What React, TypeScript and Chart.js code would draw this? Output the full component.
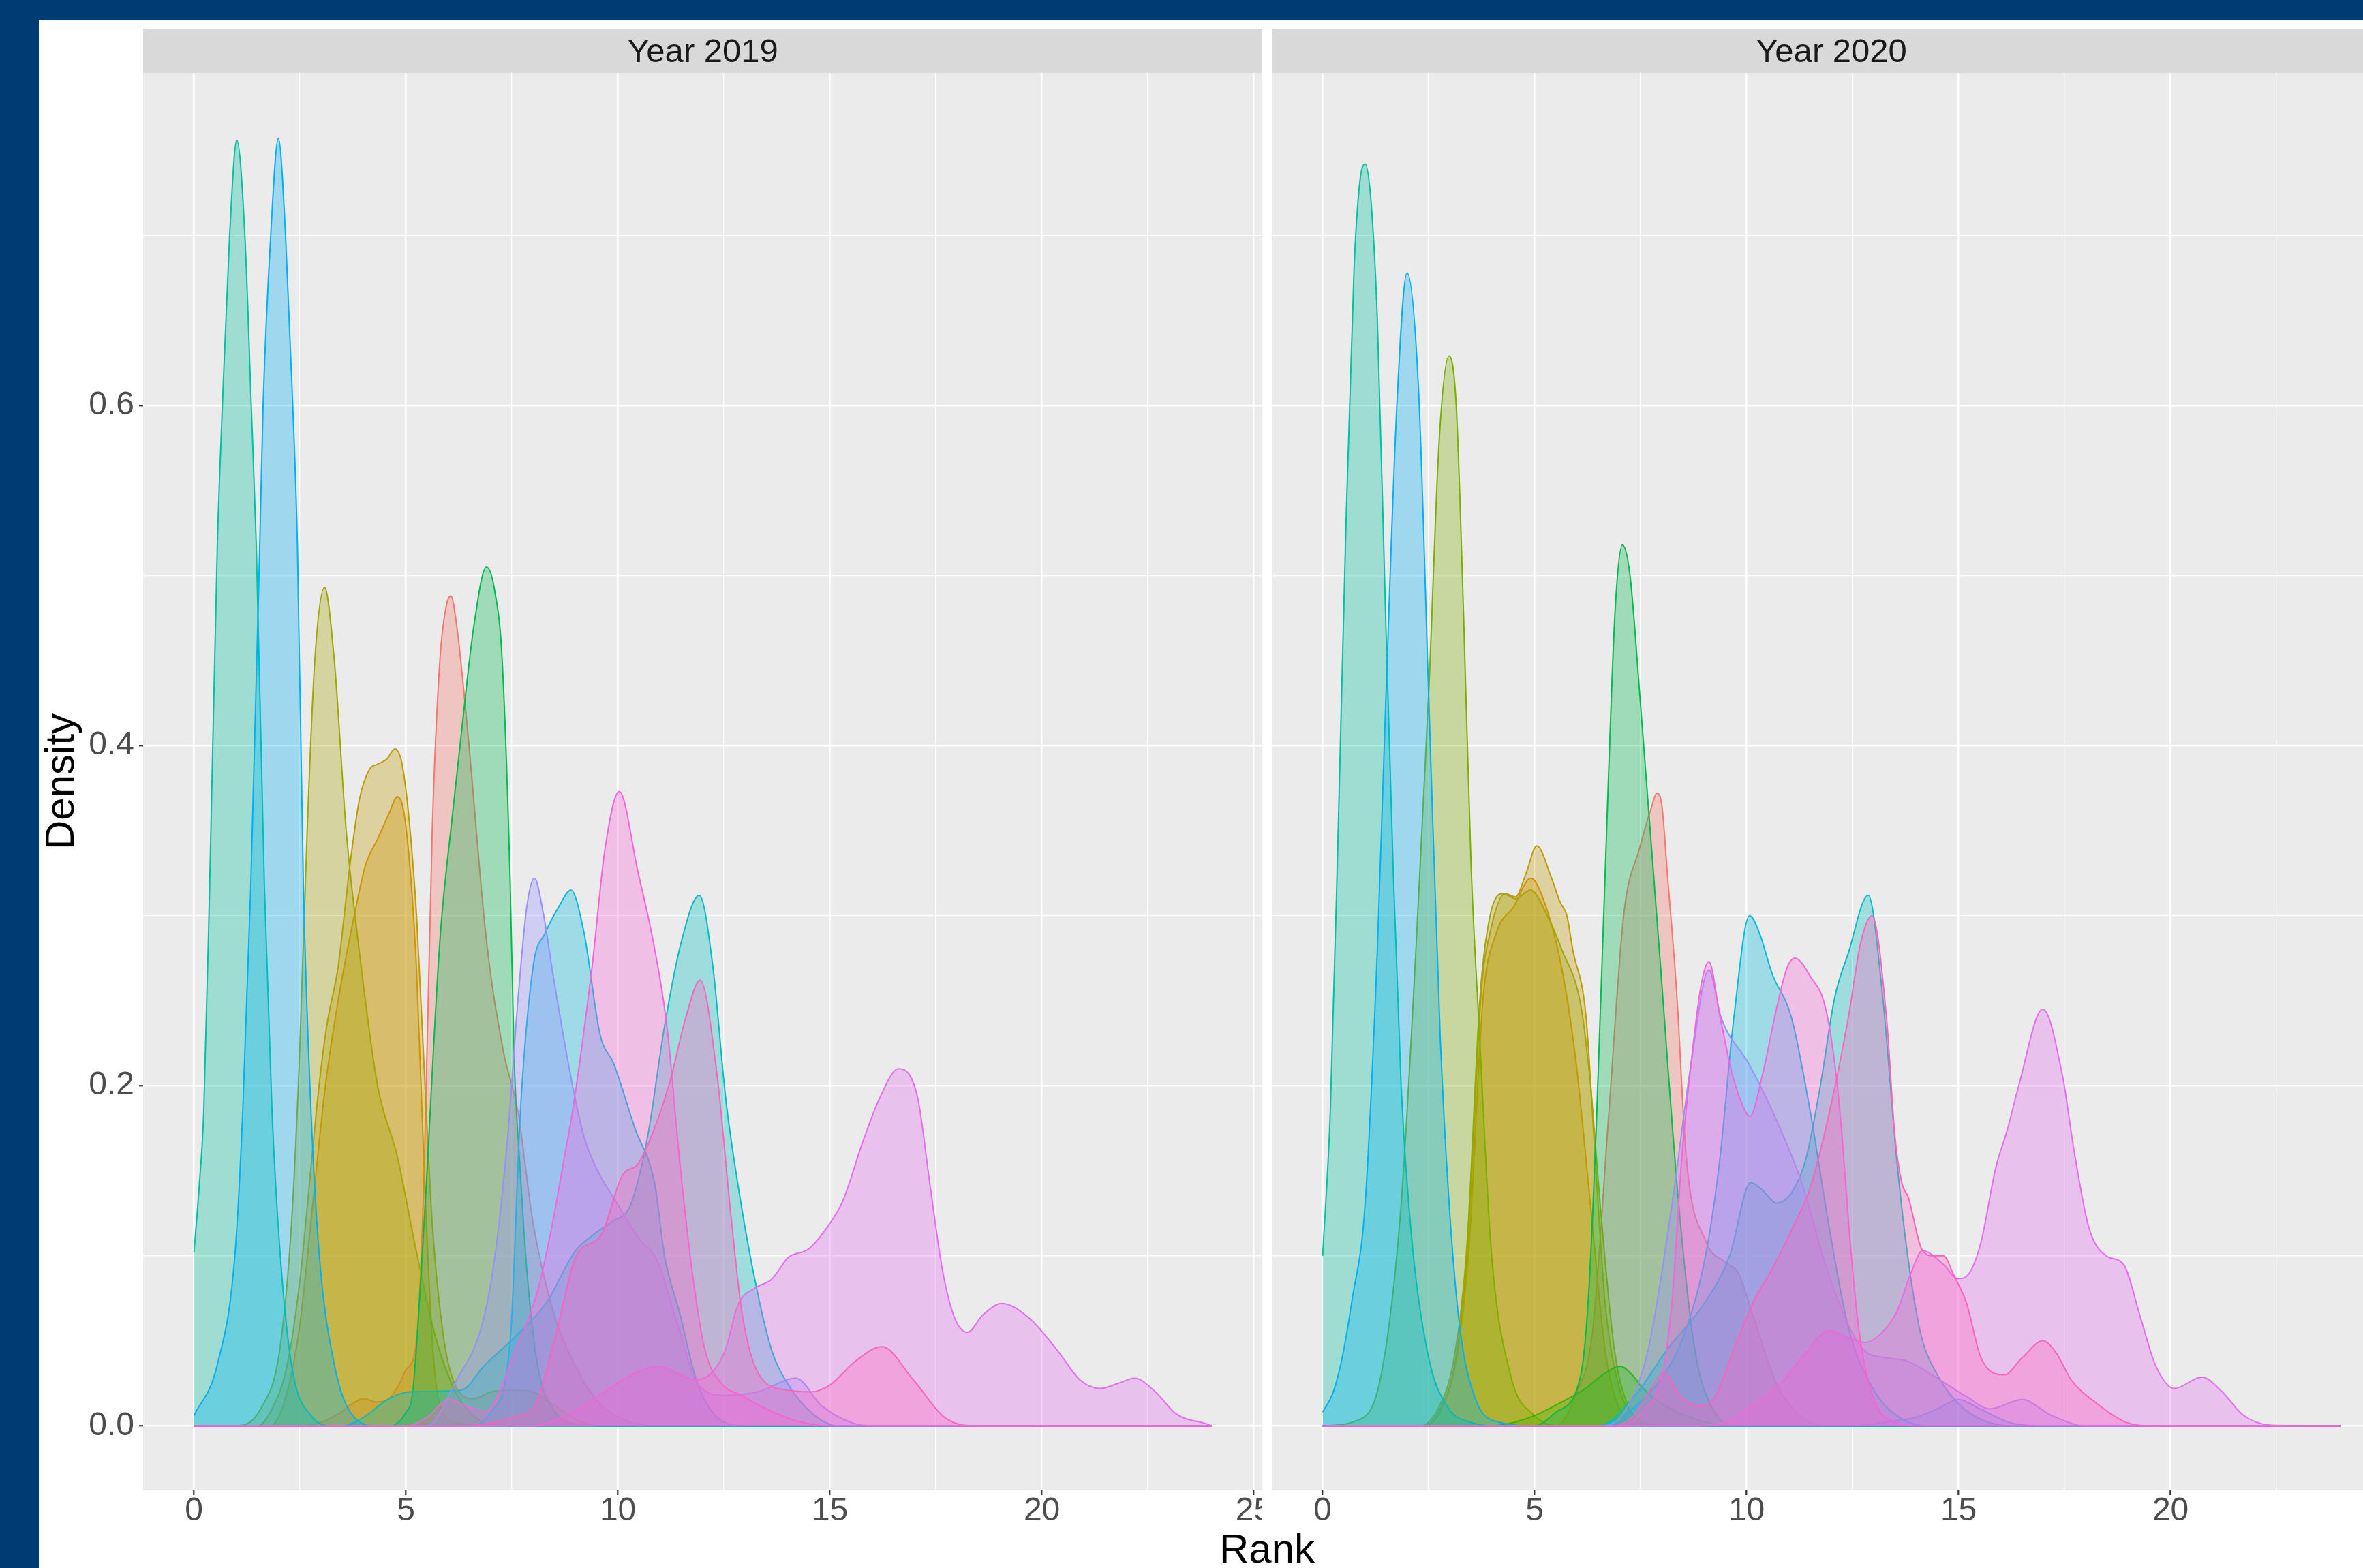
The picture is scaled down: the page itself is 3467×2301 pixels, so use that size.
import React, { useEffect, useRef } from "react";
import { Chart, registerables } from "chart.js";

Chart.register(...registerables);

type Pt = [number, number];

// ---------- axis / facet definitions ----------
const xTickValues = [0, 2.5, 5, 7.5, 10, 12.5, 15, 17.5, 20, 22.5, 25];
const xMajorTicks = [0, 5, 10, 15, 20, 25];
const yTickValues = [0, 0.1, 0.2, 0.3, 0.4, 0.5, 0.6, 0.7];
const yMajorTicks = [0, 0.2, 0.4, 0.6];
const facetLabels = ["Year 2019", "Year 2020"];
const xTitle = "Rank";
const yTitle = "Density";

// ---------- Year 2019 density curves: [rank, density] ----------
const d19_F8766D: Pt[] = [[0,0],[2.5,0],[3.0,0.002],[3.4,0.007],[3.8,0.014],[4.0,0.016],[4.3,0.014],[4.6,0.016],[4.85,0.025],[5.0,0.033],[5.25,0.05],[5.43,0.15],[5.62,0.35],[5.8,0.45],[5.95,0.482],[6.06,0.488],[6.2,0.47],[6.45,0.41],[6.9,0.285],[7.3,0.22],[7.64,0.185],[8.0,0.119],[8.5,0.065],[8.9,0.04],[9.5,0.015],[10.2,0.003],[11,0],[24,0]];
const d19_D89000: Pt[] = [[0,0],[1.8,0],[2.2,0.02],[2.5,0.06],[2.8,0.13],[3.1,0.2],[3.4,0.25],[3.78,0.3],[4.05,0.33],[4.33,0.345],[4.6,0.36],[4.8,0.37],[5.0,0.352],[5.25,0.268],[5.43,0.15],[5.62,0.05],[5.8,0.012],[6.2,0.002],[7,0],[24,0]];
const d19_C09B00: Pt[] = [[0,0],[1.5,0],[1.84,0.01],[2.2,0.036],[2.5,0.086],[2.76,0.152],[2.95,0.2],[3.13,0.235],[3.4,0.27],[3.68,0.33],[3.9,0.368],[4.14,0.386],[4.33,0.389],[4.55,0.392],[4.74,0.398],[4.9,0.39],[5.06,0.36],[5.25,0.3],[5.43,0.21],[5.62,0.119],[5.9,0.05],[6.2,0.022],[6.6,0.016],[7.0,0.02],[7.5,0.021],[8.0,0.02],[8.5,0.012],[9.0,0.004],[9.6,0],[24,0]];
const d19_A3A500: Pt[] = [[0,0],[1.0,0],[1.57,0.01],[2.03,0.046],[2.3,0.119],[2.49,0.218],[2.67,0.35],[2.85,0.45],[3.08,0.493],[3.31,0.45],[3.59,0.35],[3.87,0.285],[4.33,0.2],[4.79,0.159],[5.25,0.102],[5.7,0.052],[6.17,0.02],[6.63,0.005],[7.2,0],[24,0]];
const d19_00BB4E: Pt[] = [[0,0],[4.6,0],[5.0,0.008],[5.16,0.02],[5.43,0.12],[5.8,0.285],[6.1,0.36],[6.35,0.417],[6.6,0.47],[6.9,0.505],[7.1,0.49],[7.27,0.45],[7.46,0.318],[7.55,0.218],[7.69,0.152],[7.87,0.086],[8.1,0.036],[8.47,0.01],[9.0,0.001],[9.5,0],[24,0]];
const d19_00C1A3: Pt[] = [[0,0.102],[0.12,0.14],[0.23,0.185],[0.37,0.318],[0.55,0.517],[0.67,0.6],[0.84,0.7],[1.01,0.756],[1.2,0.7],[1.35,0.6],[1.47,0.517],[1.66,0.318],[1.84,0.185],[2.03,0.102],[2.3,0.036],[2.76,0.006],[3.3,0],[24,0]];
const d19_00BFC4: Pt[] = [[0,0],[3.5,0],[4.0,0.005],[4.6,0.016],[5.1,0.02],[6.3,0.021],[6.87,0.036],[7.6,0.053],[8.3,0.072],[9.0,0.103],[9.4,0.112],[9.85,0.12],[10.3,0.13],[10.7,0.17],[11.1,0.235],[11.5,0.285],[11.92,0.312],[12.24,0.27],[12.54,0.193],[12.83,0.142],[13.23,0.086],[13.62,0.045],[14.0,0.025],[14.6,0.007],[15.2,0],[24,0]];
const d19_00BAE0: Pt[] = [[0,0],[6.5,0],[7.0,0.008],[7.46,0.05],[7.7,0.185],[8.0,0.27],[8.29,0.29],[8.6,0.305],[8.89,0.315],[9.2,0.29],[9.58,0.23],[9.9,0.213],[10.4,0.175],[10.87,0.142],[11.1,0.1],[11.46,0.066],[11.85,0.027],[12.3,0.006],[13,0],[24,0]];
const d19_00B0F6: Pt[] = [[0,0.006],[0.55,0.036],[0.97,0.102],[1.15,0.185],[1.34,0.318],[1.55,0.517],[1.63,0.6],[1.81,0.7],[1.99,0.757],[2.16,0.7],[2.33,0.6],[2.44,0.517],[2.58,0.318],[2.76,0.185],[2.95,0.102],[3.31,0.036],[3.82,0.004],[4.3,0],[24,0]];
const d19_9590FF: Pt[] = [[0,0],[5.5,0],[6.17,0.026],[6.8,0.06],[7.1,0.1],[7.4,0.17],[7.64,0.25],[7.85,0.305],[8.03,0.322],[8.25,0.3],[8.47,0.265],[8.93,0.2],[9.2,0.17],[9.48,0.152],[10.0,0.13],[10.5,0.11],[10.93,0.097],[11.4,0.06],[11.9,0.024],[12.5,0.018],[13.3,0.02],[14.2,0.028],[14.8,0.012],[15.5,0.002],[16,0],[24,0]];
const d19_E76BF3: Pt[] = [[0,0],[8.0,0],[8.6,0.004],[9.2,0.012],[9.8,0.022],[10.4,0.031],[10.97,0.035],[11.4,0.031],[11.85,0.027],[12.24,0.032],[12.54,0.045],[12.83,0.071],[13.23,0.081],[13.62,0.086],[14.02,0.099],[14.5,0.104],[15.0,0.119],[15.3,0.132],[15.79,0.168],[16.18,0.193],[16.62,0.21],[17.07,0.193],[17.36,0.142],[17.66,0.091],[17.95,0.063],[18.25,0.055],[18.6,0.065],[19.06,0.072],[19.72,0.063],[20.02,0.055],[20.41,0.043],[20.9,0.027],[21.37,0.022],[21.8,0.025],[22.19,0.028],[22.68,0.02],[23.17,0.007],[23.96,0.0005],[24,0]];
const d19_FA62DB: Pt[] = [[0,0],[5.0,0],[5.5,0.005],[6.0,0.0155],[6.4,0.012],[6.87,0.008],[7.2,0.02],[7.55,0.043],[8.08,0.077],[8.44,0.117],[8.73,0.157],[8.93,0.185],[9.39,0.27],[9.7,0.34],[10.03,0.373],[10.47,0.326],[10.87,0.28],[11.16,0.234],[11.46,0.155],[11.75,0.091],[12.05,0.045],[12.44,0.025],[12.9,0.018],[13.5,0.01],[14.2,0.003],[15,0],[24,0]];
const d19_FF62BC: Pt[] = [[0,0],[6.5,0],[7.2,0.003],[7.6,0.006],[8.02,0.011],[8.5,0.05],[9.02,0.1],[9.6,0.112],[10.1,0.147],[10.5,0.155],[11.2,0.2],[11.6,0.24],[11.94,0.262],[12.34,0.206],[12.64,0.13],[12.93,0.066],[13.33,0.03],[14.0,0.021],[14.56,0.02],[15.0,0.024],[15.6,0.038],[16.23,0.0465],[16.97,0.027],[17.76,0.004],[18.5,0],[24,0]];

// ---------- Year 2020 density curves: [rank, density] ----------
const d20_F8766D: Pt[] = [[0,0],[5.5,0],[6.0,0.02],[6.37,0.056],[6.74,0.18],[7.1,0.3],[7.48,0.34],[7.76,0.364],[7.88,0.372],[8.0,0.365],[8.13,0.325],[8.35,0.255],[8.58,0.157],[9.03,0.109],[9.5,0.096],[9.8,0.09],[10.16,0.064],[10.7,0.025],[11.3,0.005],[12,0],[24,0]];
const d20_D89000: Pt[] = [[0,0],[2.4,0],[2.8,0.01],[3.16,0.04],[3.45,0.105],[3.78,0.25],[4.1,0.29],[4.5,0.305],[4.91,0.322],[5.2,0.31],[5.64,0.269],[5.98,0.213],[6.32,0.129],[6.66,0.045],[7.0,0.01],[7.6,0],[24,0]];
const d20_C09B00: Pt[] = [[0,0],[2.4,0],[2.77,0.01],[3.14,0.04],[3.42,0.105],[3.74,0.255],[3.95,0.29],[4.3,0.313],[4.55,0.311],[4.8,0.325],[5.05,0.341],[5.4,0.322],[5.6,0.308],[5.76,0.3],[5.9,0.28],[6.21,0.241],[6.43,0.157],[6.66,0.073],[7.0,0.022],[7.4,0.005],[8,0],[24,0]];
const d20_A3A500: Pt[] = [[0,0],[2.3,0],[2.72,0.01],[3.1,0.04],[3.4,0.105],[3.72,0.255],[3.95,0.3],[4.25,0.313],[4.55,0.31],[4.9,0.315],[5.3,0.3],[5.64,0.28],[6.09,0.247],[6.32,0.2],[6.55,0.129],[6.88,0.045],[7.2,0.012],[7.6,0.002],[8.2,0],[24,0]];
const d20_7CAE00: Pt[] = [[0,0],[0.8,0.003],[1.38,0.03],[1.85,0.13],[2.2,0.28],[2.5,0.43],[2.75,0.58],[2.98,0.629],[3.15,0.6],[3.32,0.48],[3.5,0.33],[3.7,0.23],[3.97,0.105],[4.43,0.03],[5.0,0.006],[5.6,0],[24,0]];
const d20_39B600: Pt[] = [[0,0],[4.0,0],[4.5,0.002],[5.0,0.006],[5.64,0.014],[6.2,0.022],[6.6,0.03],[7.02,0.035],[7.3,0.03],[7.56,0.022],[8.13,0.011],[8.8,0.004],[9.5,0],[24,0]];
const d20_00BB4E: Pt[] = [[0,0],[5.0,0],[5.5,0.008],[6.09,0.03],[6.28,0.08],[6.46,0.18],[6.74,0.38],[6.9,0.48],[7.07,0.518],[7.25,0.5],[7.48,0.43],[7.94,0.28],[8.4,0.13],[8.77,0.046],[9.2,0.01],[9.8,0],[24,0]];
const d20_00C1A3: Pt[] = [[0,0.1],[0.18,0.185],[0.37,0.354],[0.55,0.53],[0.74,0.68],[0.87,0.73],[1.0,0.742],[1.14,0.72],[1.29,0.65],[1.48,0.48],[1.66,0.33],[1.85,0.2],[2.12,0.105],[2.5,0.04],[2.95,0.011],[3.5,0.002],[4.2,0],[24,0]];
const d20_00BFC4: Pt[] = [[0,0],[6.5,0],[7.34,0.017],[8.13,0.045],[9.03,0.073],[9.6,0.1],[10.1,0.143],[10.4,0.138],[10.7,0.131],[11.06,0.137],[11.4,0.157],[11.74,0.2],[12.08,0.252],[12.4,0.278],[12.87,0.312],[13.2,0.255],[13.54,0.157],[13.8,0.1],[14.1,0.055],[14.5,0.03],[15.0,0.013],[15.6,0.003],[16.3,0],[24,0]];
const d20_00BAE0: Pt[] = [[0,0],[6.5,0],[7.3,0.01],[7.9,0.025],[8.47,0.05],[9.03,0.1],[9.37,0.157],[9.7,0.24],[10.07,0.3],[10.3,0.29],[10.6,0.266],[11.06,0.24],[11.5,0.185],[11.96,0.115],[12.4,0.058],[12.98,0.022],[13.6,0.005],[14.3,0],[24,0]];
const d20_00B0F6: Pt[] = [[0,0.008],[0.25,0.02],[0.46,0.04],[0.7,0.075],[1.0,0.13],[1.29,0.28],[1.48,0.42],[1.75,0.6],[1.99,0.678],[2.26,0.61],[2.5,0.43],[2.77,0.23],[3.14,0.08],[3.6,0.016],[4.2,0.002],[5,0],[24,0]];
const d20_35A2FF: Pt[] = [[0,0],[12.5,0],[13.5,0.003],[14.0,0.005],[14.5,0.01],[15.0,0.0155],[15.5,0.01],[16.2,0.002],[17,0],[24,0]];
const d20_9590FF: Pt[] = [[0,0],[6.5,0],[7.11,0.008],[7.68,0.045],[8.24,0.13],[8.69,0.213],[9.11,0.268],[9.4,0.24],[10.05,0.213],[10.7,0.18],[11.3,0.143],[11.96,0.087],[12.75,0.045],[13.3,0.04],[13.8,0.038],[14.5,0.028],[15.2,0.017],[15.74,0.01],[16.5,0.0155],[17.2,0.006],[18,0],[24,0]];
const d20_E76BF3: Pt[] = [[0,0],[9,0],[9.6,0.003],[10.16,0.012],[10.7,0.022],[11.3,0.04],[11.96,0.056],[12.4,0.052],[12.8,0.049],[13.2,0.055],[13.54,0.067],[13.88,0.09],[14.15,0.103],[14.64,0.095],[14.99,0.0865],[15.26,0.09],[15.53,0.108],[15.88,0.152],[16.15,0.174],[16.42,0.2],[16.99,0.245],[17.45,0.206],[17.73,0.161],[18.07,0.117],[18.48,0.1],[18.89,0.095],[19.3,0.063],[19.64,0.036],[20.09,0.022],[20.74,0.0286],[21.22,0.02],[21.7,0.0066],[22.38,0.0004],[24,0]];
const d20_FA62DB: Pt[] = [[0,0],[7.0,0],[7.6,0.01],[8.01,0.03],[8.24,0.073],[8.47,0.157],[8.69,0.213],[8.92,0.258],[9.11,0.273],[9.37,0.241],[9.65,0.208],[9.88,0.19],[10.08,0.182],[10.38,0.207],[10.72,0.247],[10.95,0.269],[11.14,0.275],[11.51,0.264],[11.85,0.247],[12.08,0.213],[12.25,0.171],[12.42,0.115],[12.64,0.058],[12.98,0.017],[13.5,0.002],[14,0],[24,0]];
const d20_FF62BC: Pt[] = [[0,0],[6.8,0],[7.3,0.005],[7.7,0.02],[8.04,0.031],[8.5,0.016],[8.88,0.012],[9.25,0.017],[9.7,0.045],[10.16,0.073],[10.6,0.092],[11.06,0.115],[11.5,0.14],[11.96,0.185],[12.4,0.24],[12.7,0.285],[12.96,0.3],[13.3,0.24],[13.5,0.17],[13.66,0.143],[13.82,0.134],[14.13,0.104],[14.4,0.1],[14.64,0.1],[14.9,0.088],[15.19,0.072],[15.53,0.04],[16.08,0.03],[16.5,0.04],[16.99,0.05],[17.3,0.043],[17.66,0.027],[18.27,0.013],[18.96,0.002],[19.6,0],[24,0]];

type Series = { color: string; pts: Pt[] };

// drawn in this order (first = bottom)
const panel2019: Series[] = [
  { color: "#F8766D", pts: d19_F8766D },
  { color: "#D89000", pts: d19_D89000 },
  { color: "#C09B00", pts: d19_C09B00 },
  { color: "#A3A500", pts: d19_A3A500 },
  { color: "#00BB4E", pts: d19_00BB4E },
  { color: "#00C1A3", pts: d19_00C1A3 },
  { color: "#00BFC4", pts: d19_00BFC4 },
  { color: "#00BAE0", pts: d19_00BAE0 },
  { color: "#00B0F6", pts: d19_00B0F6 },
  { color: "#9590FF", pts: d19_9590FF },
  { color: "#E76BF3", pts: d19_E76BF3 },
  { color: "#FA62DB", pts: d19_FA62DB },
  { color: "#FF62BC", pts: d19_FF62BC },
];

const panel2020: Series[] = [
  { color: "#F8766D", pts: d20_F8766D },
  { color: "#D89000", pts: d20_D89000 },
  { color: "#C09B00", pts: d20_C09B00 },
  { color: "#A3A500", pts: d20_A3A500 },
  { color: "#7CAE00", pts: d20_7CAE00 },
  { color: "#39B600", pts: d20_39B600 },
  { color: "#00BB4E", pts: d20_00BB4E },
  { color: "#00C1A3", pts: d20_00C1A3 },
  { color: "#00BFC4", pts: d20_00BFC4 },
  { color: "#00BAE0", pts: d20_00BAE0 },
  { color: "#00B0F6", pts: d20_00B0F6 },
  { color: "#35A2FF", pts: d20_35A2FF },
  { color: "#9590FF", pts: d20_9590FF },
  { color: "#E76BF3", pts: d20_E76BF3 },
  { color: "#FA62DB", pts: d20_FA62DB },
  { color: "#FF62BC", pts: d20_FF62BC },
];

// ---------- layout ----------
const PAGE_W = 3467;
const PAGE_H = 2301;
const FRAME = "#003C73";
const PANEL_TOP = 107;
const PANEL_BOTTOM = 2187;
const CANVAS_H = PAGE_H - PANEL_TOP;
const P1_LEFT = 210;
const P1_RIGHT = 1852;
const P2_LEFT = 1866;
const PANEL_W = P1_RIGHT - P1_LEFT;
const C1_LEFT = 57;
const FONT = "'Liberation Sans', Arial, Helvetica, sans-serif";

const near = (list: number[], v: number) => list.some((m) => Math.abs(m - v) < 1e-9);

function rgba(hex: string, a: number) {
  const r = parseInt(hex.slice(1, 3), 16);
  const g = parseInt(hex.slice(3, 5), 16);
  const b = parseInt(hex.slice(5, 7), 16);
  return `rgba(${r},${g},${b},${a})`;
}

const panelBg = {
  id: "panelBg",
  beforeDraw(chart: any) {
    const { ctx, chartArea } = chart;
    ctx.save();
    ctx.fillStyle = "#EBEBEB";
    ctx.fillRect(chartArea.left, chartArea.top, chartArea.right - chartArea.left, chartArea.bottom - chartArea.top);
    ctx.restore();
  },
};

function buildConfig(series: Series[], showY: boolean, yAxisWidth: number): any {
  return {
    type: "line",
    data: {
      datasets: series.map((s, i) => ({
        data: s.pts.map(([x, y]) => ({ x, y })),
        borderColor: s.color,
        backgroundColor: rgba(s.color, 0.32),
        borderWidth: 2,
        fill: "origin",
        pointRadius: 0,
        pointHoverRadius: 0,
        cubicInterpolationMode: "monotone",
        order: series.length - i,
      })),
    },
    options: {
      animation: false,
      responsive: false,
      maintainAspectRatio: false,
      devicePixelRatio: 1,
      events: [],
      layout: { padding: 0 },
      plugins: {
        legend: { display: false },
        tooltip: { enabled: false },
        filler: { drawTime: "beforeDatasetDraw" },
      },
      scales: {
        x: {
          type: "linear",
          min: -1.2,
          max: 25.2,
          afterBuildTicks: (scale: any) => {
            scale.ticks = xTickValues.map((v) => ({ value: v }));
          },
          afterFit: (scale: any) => {
            scale.height = PAGE_H - PANEL_BOTTOM;
            scale.paddingLeft = 0;
            scale.paddingRight = 0;
          },
          border: { display: false },
          grid: {
            color: "#FFFFFF",
            lineWidth: (ctx: any) => (ctx.tick && near(xMajorTicks, ctx.tick.value) ? 2.6 : 1.3),
            drawTicks: true,
            tickLength: 7,
            tickWidth: 2.2,
            tickColor: (ctx: any) => (ctx.tick && near(xMajorTicks, ctx.tick.value) ? "#333333" : "rgba(0,0,0,0)"),
          },
          ticks: {
            autoSkip: false,
            maxRotation: 0,
            minRotation: 0,
            padding: 0,
            color: "#4D4D4D",
            font: { family: FONT, size: 48, lineHeight: 1 },
            callback: (v: number) => (near(xMajorTicks, v) ? String(v) : ""),
          },
        },
        y: {
          type: "linear",
          min: -0.0379,
          max: 0.7955,
          afterBuildTicks: (scale: any) => {
            scale.ticks = yTickValues.map((v) => ({ value: v }));
          },
          afterFit: (scale: any) => {
            scale.width = yAxisWidth;
            scale.paddingTop = 0;
            scale.paddingBottom = 0;
          },
          border: { display: false },
          grid: {
            color: "#FFFFFF",
            lineWidth: (ctx: any) => (ctx.tick && near(yMajorTicks, ctx.tick.value) ? 2.6 : 1.3),
            drawTicks: showY,
            tickLength: showY ? 6 : 0,
            tickWidth: 2.2,
            tickColor: (ctx: any) => (ctx.tick && near(yMajorTicks, ctx.tick.value) ? "#333333" : "rgba(0,0,0,0)"),
          },
          ticks: {
            display: showY,
            autoSkip: false,
            padding: 7,
            color: "#4D4D4D",
            font: { family: FONT, size: 48, lineHeight: 1 },
            callback: (v: number) => (near(yMajorTicks, v) ? v.toFixed(1) : ""),
          },
        },
      },
    },
    plugins: [panelBg],
  };
}

function Panel(props: { series: Series[]; showY: boolean; left: number; width: number; yAxisWidth: number }) {
  const ref = useRef<HTMLCanvasElement | null>(null);
  useEffect(() => {
    if (!ref.current) return;
    const chart = new Chart(ref.current, buildConfig(props.series, props.showY, props.yAxisWidth));
    return () => chart.destroy();
  }, []);
  return (
    <canvas
      ref={ref}
      width={props.width}
      height={CANVAS_H}
      style={{ position: "absolute", left: props.left, top: PANEL_TOP, width: props.width, height: CANVAS_H }}
    />
  );
}

function Strip(props: { left: number; label: string }) {
  return (
    <div
      style={{
        position: "absolute",
        left: props.left,
        top: 42,
        width: PANEL_W,
        height: PANEL_TOP - 42,
        background: "#D9D9D9",
        display: "flex",
        alignItems: "center",
        justifyContent: "center",
        fontFamily: FONT,
        fontSize: 49,
        lineHeight: 1,
        color: "#1A1A1A",
      }}
    >
      {props.label}
    </div>
  );
}

export default function App() {
  return (
    <div
      style={{
        position: "fixed",
        left: 0,
        top: 0,
        width: PAGE_W,
        height: PAGE_H,
        overflow: "hidden",
        background: "#FFFFFF",
      }}
    >
      <Panel series={panel2019} showY={true} left={C1_LEFT} width={P1_RIGHT - C1_LEFT} yAxisWidth={P1_LEFT - C1_LEFT} />
      <Panel series={panel2020} showY={false} left={P2_LEFT} width={PANEL_W} yAxisWidth={0} />
      <Strip left={P1_LEFT} label={facetLabels[0]} />
      <Strip left={P2_LEFT} label={facetLabels[1]} />
      <div
        style={{
          position: "absolute",
          left: (P1_LEFT + P2_LEFT + PANEL_W) / 2,
          top: 2243,
          transform: "translateX(-50%)",
          fontFamily: FONT,
          fontSize: 60,
          lineHeight: 1,
          color: "#000000",
          whiteSpace: "nowrap",
        }}
      >
        {xTitle}
      </div>
      <div
        style={{
          position: "absolute",
          left: 88,
          top: (PANEL_TOP + PANEL_BOTTOM) / 2,
          transform: "translate(-50%, -50%) rotate(-90deg)",
          fontFamily: FONT,
          fontSize: 60,
          lineHeight: 1,
          color: "#000000",
          whiteSpace: "nowrap",
        }}
      >
        {yTitle}
      </div>
      <div style={{ position: "absolute", left: 0, top: 0, width: PAGE_W, height: 29, background: FRAME }} />
      <div style={{ position: "absolute", left: 0, top: 0, width: 57, height: PAGE_H, background: FRAME }} />
    </div>
  );
}
